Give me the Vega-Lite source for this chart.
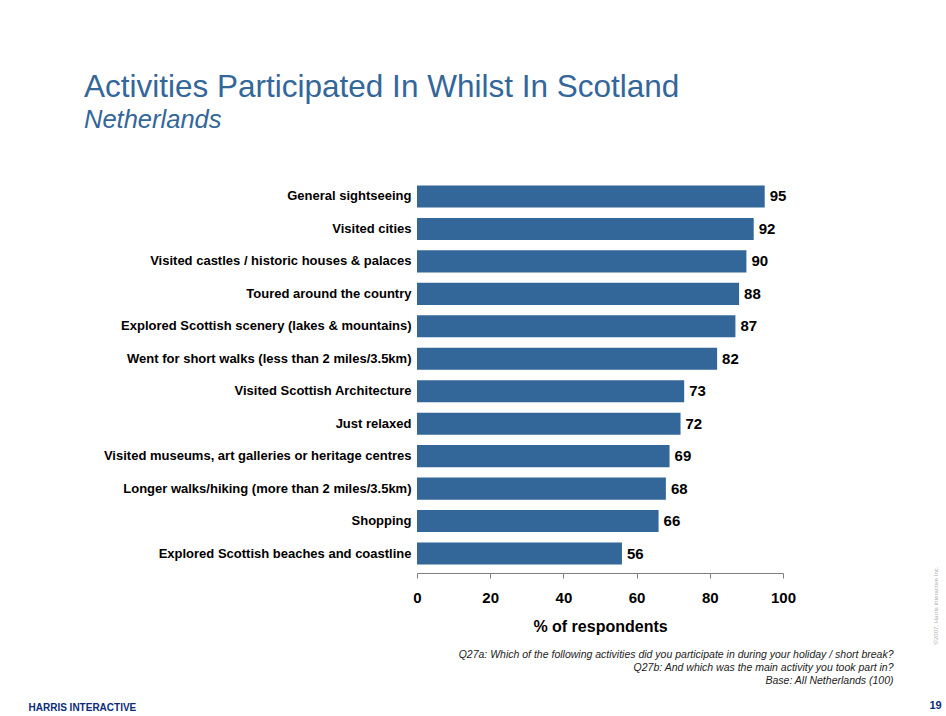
{
  "$schema": "https://vega.github.io/schema/vega-lite/v6.json",
  "autosize": {"type": "none"},
  "width": 366,
  "height": 396,
  "padding": {"left": 417, "top": 177, "right": 163, "bottom": 143},
  "background": "white",
  "config": {"view": {"stroke": null}, "font": "Liberation Sans"},
  "title": {
    "text": "Activities Participated In Whilst In Scotland",
    "subtitle": "Netherlands",
    "anchor": "start",
    "frame": "group",
    "dx": -333,
    "offset": 44,
    "fontSize": 31.5,
    "fontWeight": "normal",
    "color": "#336699",
    "subtitleFontSize": 25.5,
    "subtitleFontStyle": "italic",
    "subtitleColor": "#336699",
    "subtitlePadding": 4
  },
  "data": {
    "values": [
      {"activity": "General sightseeing", "value": 95},
      {"activity": "Visited cities", "value": 92},
      {"activity": "Visited castles / historic houses & palaces", "value": 90},
      {"activity": "Toured around the country", "value": 88},
      {"activity": "Explored Scottish scenery (lakes & mountains)", "value": 87},
      {"activity": "Went for short walks (less than 2 miles/3.5km)", "value": 82},
      {"activity": "Visited Scottish Architecture", "value": 73},
      {"activity": "Just relaxed", "value": 72},
      {"activity": "Visited museums, art galleries or heritage centres", "value": 69},
      {"activity": "Longer walks/hiking (more than 2 miles/3.5km)", "value": 68},
      {"activity": "Shopping", "value": 66},
      {"activity": "Explored Scottish beaches and coastline", "value": 56}
    ]
  },
  "encoding": {
    "y": {
      "field": "activity",
      "type": "nominal",
      "sort": null,
      "scale": {"paddingInner": 0.32, "paddingOuter": 0.26},
      "axis": {
        "title": null,
        "domain": false,
        "ticks": false,
        "labelPadding": 6,
        "labelFontSize": 13,
        "labelFontWeight": "bold",
        "labelColor": "#000000",
        "labelLimit": 400
      }
    }
  },
  "layer": [
    {
      "mark": {"type": "bar", "color": "#336699"},
      "encoding": {
        "x": {
          "field": "value",
          "type": "quantitative",
          "scale": {"domain": [0, 100], "nice": false},
          "axis": {
            "title": "% of respondents",
            "values": [0, 20, 40, 60, 80, 100],
            "grid": false,
            "domainColor": "#808080",
            "tickColor": "#808080",
            "tickSize": 5,
            "labelFontSize": 15,
            "labelFontWeight": "bold",
            "labelColor": "#000000",
            "labelPadding": 12,
            "labelFlush": false,
            "titleFontSize": 16,
            "titleFontWeight": "bold",
            "titleColor": "#000000",
            "titlePadding": 13
          }
        }
      }
    },
    {
      "mark": {"type": "text", "align": "left", "dx": 5, "fontSize": 15, "fontWeight": "bold", "color": "#000000"},
      "encoding": {
        "x": {"field": "value", "type": "quantitative", "axis": null},
        "text": {"field": "value", "type": "quantitative"}
      }
    },
    {
      "mark": {"type": "point", "opacity": 0},
      "encoding": {
        "x": {
          "field": "value",
          "type": "quantitative",
          "axis": {
            "orient": "bottom",
            "domain": false,
            "ticks": false,
            "labels": false,
            "grid": false,
            "title": [
              "Q27a: Which of the following activities did you participate in during your holiday / short break?",
              "Q27b: And which was the main activity you took part in?",
              "Base: All Netherlands (100)"
            ],
            "titleFontSize": 10.5,
            "titleFontStyle": "italic",
            "titleFontWeight": "normal",
            "titleColor": "#222222",
            "titleAnchor": "end",
            "titleAlign": "right",
            "titleBaseline": "top",
            "titleX": 476,
            "titleY": 76,
            "titleLineHeight": 13
          }
        }
      }
    },
    {
      "mark": {"type": "point", "opacity": 0},
      "encoding": {
        "x": {
          "field": "value",
          "type": "quantitative",
          "axis": {
            "orient": "bottom",
            "domain": false,
            "ticks": false,
            "labels": false,
            "grid": false,
            "title": "HARRIS INTERACTIVE",
            "titleFontSize": 10,
            "titleFontWeight": "bold",
            "titleColor": "#0b2d78",
            "titleAnchor": "start",
            "titleAlign": "left",
            "titleBaseline": "middle",
            "titleX": -389,
            "titleY": 134
          }
        }
      }
    },
    {
      "mark": {"type": "point", "opacity": 0},
      "encoding": {
        "x": {
          "field": "value",
          "type": "quantitative",
          "axis": {
            "orient": "bottom",
            "domain": false,
            "ticks": false,
            "labels": false,
            "grid": false,
            "title": "19",
            "titleFontSize": 11,
            "titleFontWeight": "bold",
            "titleColor": "#0b2d78",
            "titleAnchor": "start",
            "titleAlign": "left",
            "titleBaseline": "middle",
            "titleX": 512,
            "titleY": 132
          }
        }
      }
    },
    {
      "mark": {"type": "point", "opacity": 0},
      "encoding": {
        "x": {
          "field": "value",
          "type": "quantitative",
          "axis": {
            "orient": "bottom",
            "domain": false,
            "ticks": false,
            "labels": false,
            "grid": false,
            "title": "©2007, Harris Interactive Inc.",
            "titleFontSize": 6,
            "titleFontWeight": "normal",
            "titleColor": "#b0b0b0",
            "titleAngle": -90,
            "titleAlign": "center",
            "titleBaseline": "middle",
            "titleX": 518,
            "titleY": 32
          }
        }
      }
    }
  ],
  "resolve": {"axis": {"x": "independent"}}
}
